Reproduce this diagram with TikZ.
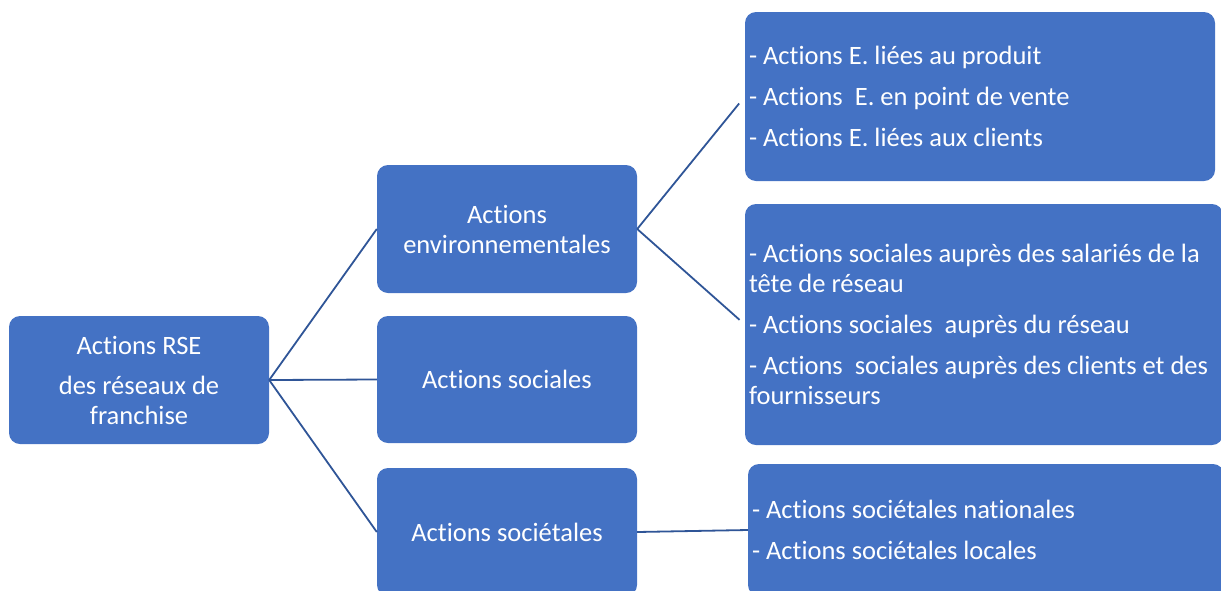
\documentclass[tikz,border=0pt]{standalone}
\usepackage{fontspec}
\setmainfont{Carlito}[Ligatures=NoCommon]
\frenchspacing
\definecolor{boxblue}{HTML}{4472C4}
\definecolor{linkblue}{HTML}{2F5597}
\begin{document}
\begin{tikzpicture}[x=1pt,y=-1pt,
  blk/.style={draw=none,fill=boxblue,rounded corners=11pt,text=white,
    font=\fontsize{26.5}{30}\selectfont,inner sep=0pt},
  mid/.style={blk,minimum width=260pt,minimum height=128pt,align=center},
  lst/.style={blk,align=flush left,inner xsep=4pt,anchor=center},
  link/.style={draw=linkblue,line width=1.8pt}]
\useasboundingbox (0,0) rectangle (1221,590);
\clip (0,0) rectangle (1221,590);
\node[mid] (root) at (139,380) {Actions RSE\\[10pt]des réseaux de\\franchise};
\node[mid] (env) at (507,229) {Actions\\environnementales};
\node[mid,minimum height=127pt] (soc) at (507,379.5) {Actions sociales};
\node[mid] (socl) at (507,532) {Actions sociétales};
\node[lst,minimum width=470pt,minimum height=169pt,text width=462pt] (envl) at (980,96.5)
  {- Actions E. liées au produit\\[11pt]- Actions\ \ E. en point de vente\\[11pt]- Actions E. liées aux clients};
\node[lst,minimum width=478pt,minimum height=241pt,text width=470pt] (socr) at (984,324.5)
  {- Actions sociales auprès des salariés de la\\tête de réseau\\[11pt]- Actions sociales\ \ auprès du réseau\\[11pt]- Actions\ \ sociales auprès des clients et des\\fournisseurs};
\node[lst,minimum width=476pt,minimum height=132pt,text width=468pt] (soclr) at (986,530)
  {- Actions sociétales nationales\\[11pt]- Actions sociétales locales};
\draw[link] (root.east) -- (env.west);
\draw[link] (root.east) -- (soc.west);
\draw[link] (root.east) -- (socl.west);
\draw[link,shorten >=9pt] (env.east) -- (envl.west);
\draw[link,shorten >=7pt] (env.east) -- (socr.west);
\draw[link] (socl.east) -- (soclr.west);
\end{tikzpicture}
\end{document}
